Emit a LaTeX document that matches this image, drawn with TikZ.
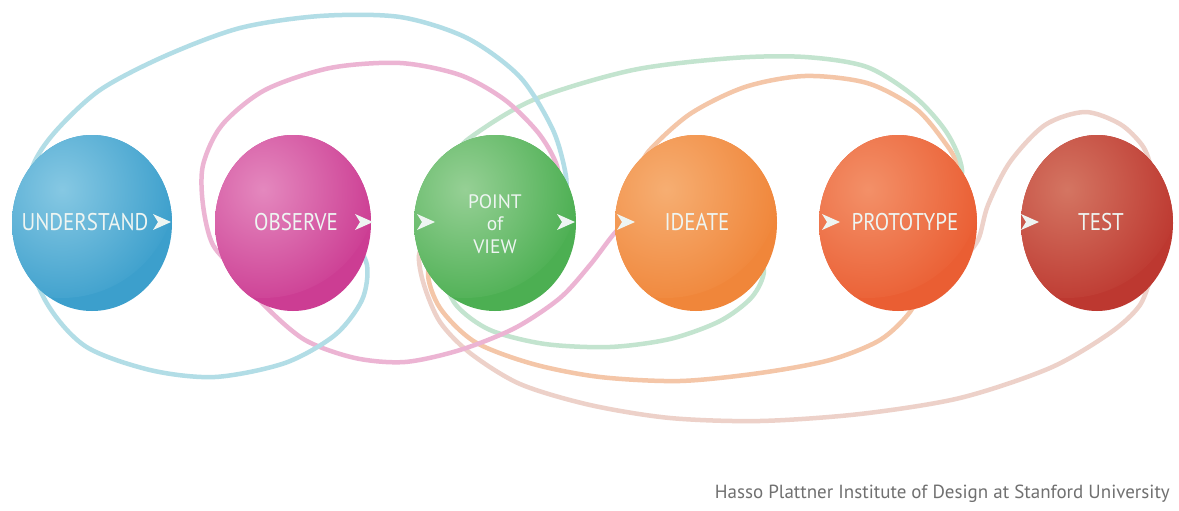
\documentclass[tikz,border=0pt]{standalone}
\usepackage{fontspec}
\setmainfont{PT Sans}
\usetikzlibrary{shapes.geometric,calc}
\pgfdeclarelayer{back}
\pgfdeclarelayer{bg}
\pgfsetlayers{back,bg,main}
\definecolor{ucol}{HTML}{3C9FCC}\definecolor{uhi}{HTML}{86C8E3}
\definecolor{ocol}{HTML}{CC3D93}\definecolor{ohi}{HTML}{E488BE}
\definecolor{pcol}{HTML}{4CAF52}\definecolor{phi}{HTML}{96D095}
\definecolor{icol}{HTML}{F0863A}\definecolor{ihi}{HTML}{F6AE72}
\definecolor{rcol}{HTML}{EA5E33}\definecolor{rhi}{HTML}{F39068}
\definecolor{tcol}{HTML}{BD3830}\definecolor{thi}{HTML}{D47562}
\definecolor{lblue}{HTML}{B2DDE6}
\definecolor{lpink}{HTML}{ECB4D3}
\definecolor{lgreen}{HTML}{C3E4CF}
\definecolor{lorange}{HTML}{F4C6A8}
\definecolor{lsalmon}{HTML}{EDD1C9}
\definecolor{txtcol}{HTML}{EEF5F2}
\definecolor{footgray}{HTML}{707070}
\newcommand{\tallt}[1]{\scalebox{1}[1.15]{#1}}
\tikzset{
  ball/.style n args={3}{shape=ellipse, inner sep=0pt, minimum height=176pt,
    minimum width=#3, fill=#1,
    path picture={\shade[inner color=#2, outer color=#1]
      ([xshift=-30pt,yshift=40pt]path picture bounding box.center) circle[radius=115pt];}},
  lbl/.style={text=txtcol, inner sep=0pt, font=\fontsize{21}{22}\selectfont},
  loopline/.style={line width=4.5pt, line cap=round, line join=round},
  chev/.pic={\fill[txtcol] (-9,-8) -- (9,0) -- (-9,8) -- (-4,0) -- cycle;}
}
\begin{document}
\begin{tikzpicture}[x=1pt,y=-1pt]
\begin{pgfonlayer}{back}
\fill[white] (0,0) rectangle (1179,511);
\end{pgfonlayer}
\useasboundingbox (0,0) rectangle (1179,511);

% circles
\node[ball={ucol}{uhi}{160pt}] (U) at (92,223) {};
\node[ball={ocol}{ohi}{156pt}] (O) at (293,223) {};
\node[ball={pcol}{phi}{162pt}] (P) at (495,223) {};
\node[ball={icol}{ihi}{162pt}] (I) at (696,223) {};
\node[ball={rcol}{rhi}{158pt}] (R) at (898,223) {};
\node[ball={tcol}{thi}{152pt}] (T) at (1097,223) {};

% labels
\node[lbl] (tU) at (85,222) {\tallt{UNDERSTAND}};
\node[lbl] (tO) at (296,222) {\tallt{OBSERVE}};
\node[lbl, align=center, font=\fontsize{19.5}{22.5}\selectfont] (tP) at (495,224) {POINT\\of\\VIEW};
\node[lbl] (tI) at (697,222) {\tallt{IDEATE}};
\node[lbl] (tR) at (905,222) {\tallt{PROTOTYPE}};
\node[lbl] (tT) at (1101,222) {\tallt{TEST}};

% chevrons
\pic (cU) at (162,222) {chev};
\pic (cO) at (364,222) {chev};
\pic (cP1) at (426,222) {chev};
\pic (cP2) at (566,222) {chev};
\pic (cI) at (626,222) {chev};
\pic (cR) at (831,222) {chev};
\pic (cT) at (1030,222) {chev};

% footer
\node[anchor=east, text=footgray, inner sep=0pt, font=\fontsize{19}{20}\selectfont] (foot) at (1170,494) {Hasso Plattner Institute of Design at Stanford University};

% loop ends (hidden inside the circles)
\coordinate (bS) at ($(P)+(70,-22)$);
\coordinate (bM) at ($(U)+(-72,5)$);
\coordinate (bE) at ($(O)+(58,10)$);
\coordinate (pS) at ($(P)+(53,-28)$);
\coordinate (pM) at ($(O)+(-53,52)$);
\coordinate (pE) at ($(I)+(-64,-8)$);
\coordinate (gS) at ($(P)+(-40,-63)$);
\coordinate (gE) at ($(R)+(55,-15)$);
\coordinate (gS2) at ($(P)+(-55,47)$);
\coordinate (gE2) at ($(I)+(55,20)$);
\coordinate (oS) at ($(I)+(-56,-50)$);
\coordinate (oE) at ($(R)+(52,-28)$);
\coordinate (oS2) at ($(P)+(-50,20)$);
\coordinate (oE2) at ($(R)+(25,60)$);
\coordinate (sS) at ($(R)+(62,40)$);
\coordinate (sE) at ($(T)+(50,-40)$);
\coordinate (sS2) at ($(P)+(-65,10)$);
\coordinate (sE2) at ($(T)+(55,50)$);

\begin{pgfonlayer}{bg}
% salmon: prototype -> test (top), point of view -> test (bottom)
\draw[loopline, lsalmon] plot[smooth] coordinates {(sS) (978,240) (988,205) (1010,162) (1045,125) (1085,112) (1120,124) (1142,145) (1150,165) (sE)};
\draw[loopline, lsalmon] plot[smooth] coordinates {(sS2) (419,255) (424,285) (440,322) (470,353) (520,384) (590,405) (670,418) (760,421) (860,414) (960,398) (1050,368) (1110,333) (1140,305) (sE2)};
% orange: ideate -> prototype (top), point of view -> prototype (bottom)
\draw[loopline, lorange] plot[smooth] coordinates {(oS) (648,152) (690,114) (745,87) (805,76) (867,83) (915,108) (943,140) (957,165) (oE)};
\draw[loopline, lorange] plot[smooth] coordinates {(oS2) (428,272) (440,308) (475,342) (533,364) (600,377) (680,381) (760,373) (830,360) (880,340) (910,312) (oE2)};
% green: point of view -> prototype (top), point of view -> ideate (bottom)
\draw[loopline, lgreen] plot[smooth] coordinates {(gS) (467,140) (533,100) (633,70) (733,58) (805,57) (867,67) (915,97) (947,133) (962,170) (gE)};
\draw[loopline, lgreen] plot[smooth] coordinates {(gS2) (456,305) (490,330) (545,344) (610,347) (670,339) (720,321) (752,297) (764,270) (gE2)};
% pink
\draw[loopline, lpink] plot[smooth] coordinates {(pS) (558,170) (540,135) (505,100) (460,75) (400,63) (330,68) (265,90) (222,125) (203,165) (203,205) (213,245) (pM) (265,306) (305,340) (355,358) (405,362) (460,350) (515,328) (560,298) (590,265) (613,235) (pE)};
% blue
\draw[loopline, lblue] plot[smooth] coordinates {(bS) (566,176) (553,130) (520,77) (467,38) (400,17) (320,16) (240,28) (165,56) (100,90) (55,132) (32,168) (bM) (45,300) (85,346) (150,370) (215,377) (285,363) (335,335) (362,300) (367,265) (bE)};
\end{pgfonlayer}
\end{tikzpicture}
\end{document}
